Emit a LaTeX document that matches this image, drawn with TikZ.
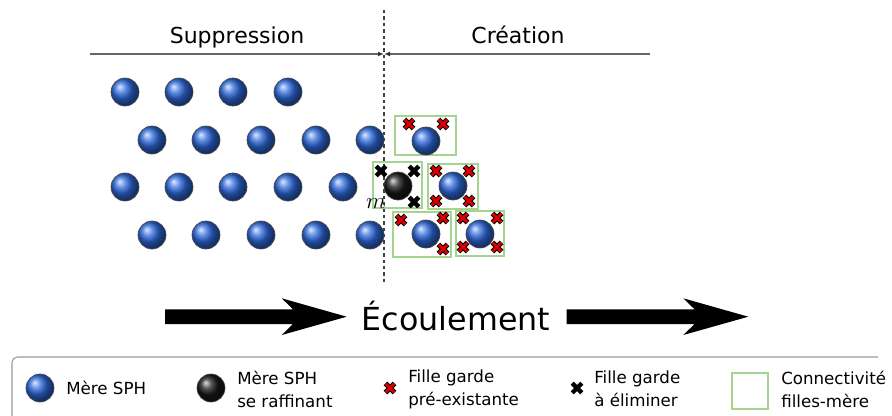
\documentclass[tikz,border=0pt]{standalone}
\usepackage{fontspec}
\setmainfont{DejaVu Sans}
\usetikzlibrary{arrows.meta}

\definecolor{sphblue}{RGB}{45,105,220}
\definecolor{boxgreen}{RGB}{165,212,145}
\definecolor{xred}{RGB}{215,0,0}

\tikzset{
  mere/.style={circle, inner sep=0pt, minimum size=21pt, shading=ball,
    ball color=sphblue, draw=black!70, line width=0.5pt},
  raffine/.style={mere, ball color=black!90},
  connect/.style={draw=boxgreen, line width=0.8pt},
  legend/.style={anchor=west, inner sep=0pt, align=left,
    font=\fontsize{12.5}{17.3}\selectfont},
  redx/.pic={
    \draw[line width=3.8pt] (-4.6,-4.6) -- (4.6,4.6) (-4.6,4.6) -- (4.6,-4.6);
    \draw[xred, line width=2.2pt] (-4.2,-4.2) -- (4.2,4.2) (-4.2,4.2) -- (4.2,-4.2);
  },
  blackx/.pic={
    \draw[line width=3.2pt] (-4.8,-4.8) -- (4.8,4.8) (-4.8,4.8) -- (4.8,-4.8);
  },
}

\begin{document}
\begin{tikzpicture}[x=0.75pt, y=-0.75pt]
  \useasboundingbox (0,0) rectangle (892,415);

  % zones
  \coordinate (ztop) at (384,10);
  \coordinate (zbot) at (384,282);
  \coordinate (zleft) at (90,54);
  \coordinate (zmid) at (384,54);
  \coordinate (zright) at (650,54);
  \draw[black!75, line width=0.8pt, dash pattern=on 2.6pt off 2.2pt] (ztop) -- (zbot);
  \draw[black!60, line width=1.1pt, -{Latex[length=4.5pt,width=3.6pt,color=black!80]}] (zleft) -- (zmid);
  \draw[black!60, line width=1.1pt, -{Latex[length=4.5pt,width=3.6pt,color=black!80]}] (zright) -- (zmid);
  \node[font=\fontsize{16.5}{16.5}\selectfont, anchor=base] (supp) at (237,43) {Suppression};
  \node[font=\fontsize{16.5}{16.5}\selectfont, anchor=base] (crea) at (518,43) {Création};

  % mother particles
  \foreach \x [count=\i] in {125,179,233,288}
    \node[mere] (a\i) at (\x,92) {};
  \foreach \x [count=\i] in {152,206,261,316,370}
    \node[mere] (b\i) at (\x,140) {};
  \foreach \x [count=\i] in {125,179,233,288,343}
    \node[mere] (c\i) at (\x,187) {};
  \foreach \x [count=\i] in {152,206,261,316,370}
    \node[mere] (d\i) at (\x,235) {};

  % connectivity boxes
  \draw[connect] (395,116) rectangle (456,155);
  \draw[connect] (373,162) rectangle (422,208);
  \draw[connect] (428,164) rectangle (478,209);
  \draw[connect] (393,212) rectangle (451,257);
  \draw[connect] (456,211) rectangle (504,256);

  % created particles
  \node[mere] (e1) at (426,141) {};
  \node[raffine] (m) at (398,186) {};
  \node[mere] (e2) at (453,186) {};
  \node[mere] (e3) at (426,234) {};
  \node[mere] (e4) at (480,234) {};
  \node[font=\fontsize{19}{19}\selectfont, inner sep=0pt] (mlab) at (376,204) {$m$};

  % daughters
  \foreach \p in {(409,124),(443,124),(436,171),(469,171),(436,201),(469,201),
                  (401,220),(443,218),(443,249),(463,218),(497,218),(463,247),(497,247)}
    \pic at \p {redx};
  \foreach \p in {(381,171),(414,171),(414,202)}
    \pic at \p {blackx};

  % flow
  \foreach \dx in {0,401.6}
    \fill[shift={(\dx,0)}] (165,309.3) -- (293,309.3) -- (281.7,298.3) -- (346.7,316.7)
      -- (281.7,335) -- (293,324) -- (165,324) -- cycle;
  \node[font=\fontsize{23.8}{23.8}\selectfont, anchor=base] (flow) at (456,330) {Écoulement};

  % legend
  \draw[black!40, line width=0.8pt, rounded corners=4pt] (12,420) -- (12,357) -- (878,357);
  \node[mere] (lmere) at (40,388) {};
  \node[legend] (tmere) at (66,388) {Mère SPH};
  \node[raffine] (lraf) at (211,388) {};
  \node[legend] (traf) at (237,389) {Mère SPH\\se raffinant};
  \pic at (390,388) {redx};
  \node[legend] (tpre) at (408,389) {Fille garde\\pré-existante};
  \pic at (577,388) {blackx};
  \node[legend] (telim) at (594,389) {Fille garde\\à éliminer};
  \draw[connect] (732,373) rectangle (768,409);
  \node[legend] (tconn) at (781,389) {Connectivité\\filles-mère};
\end{tikzpicture}
\end{document}
